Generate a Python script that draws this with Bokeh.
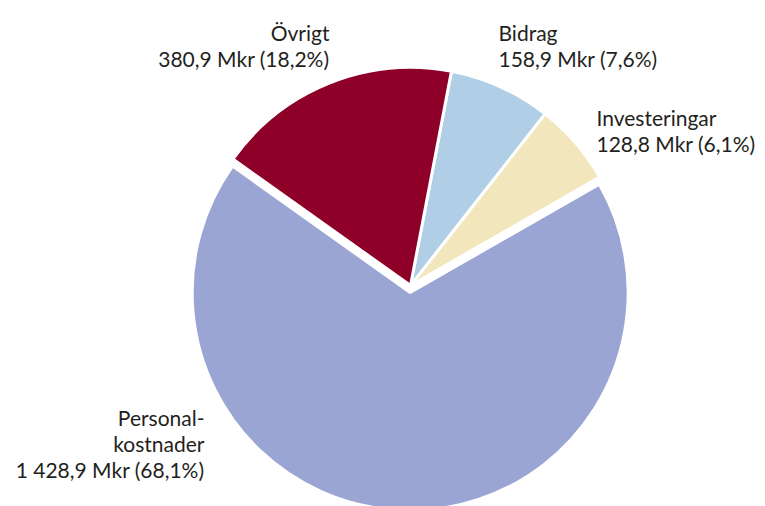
import math
from bokeh.plotting import figure
from bokeh.models import ColumnDataSource, Range1d
from bokeh.core.properties import value
from bokeh.embed import file_html
from bokeh.resources import INLINE

# ---- data ----
categories = ["Investeringar", "Bidrag", "Övrigt", "Personalkostnader"]
label_lines = [["Investeringar"], ["Bidrag"], ["Övrigt"], ["Personal-", "kostnader"]]
values = [128.8, 158.9, 380.9, 1428.9]  # Mkr

# ---- style ----
colors = ["#f2e7bc", "#b0cfe6", "#8f0029", "#9aa5d4"]
explode = [0, 0, 0, 7]
label_x = [596, 498, 329, 204]
label_y0 = [389, 474, 474, 89]   # baseline of first line (data coords, y up)
label_align = ["left", "left", "right", "right"]
line_step = 26
font = "Lato"
fsize = "21px"
txt_color = "#231f20"

W, H = 765, 506
p = figure(width=W, height=H, x_range=Range1d(0, W), y_range=Range1d(0, H),
           output_backend="svg", toolbar_location=None, min_border=0)
p.axis.visible = False
p.grid.visible = False
p.outline_line_color = None
p.background_fill_color = "white"

cx, cy, r = 410, 221, 218
start = math.radians(29.8)
total = sum(values)

xs, ys, a0s, a1s = [], [], [], []
acc = start
for v, e in zip(values, explode):
    a0 = acc
    a1 = acc + v / total * 2 * math.pi
    mid = (a0 + a1) / 2
    xs.append(cx + e * math.cos(mid))
    ys.append(cy + e * math.sin(mid))
    a0s.append(a0)
    a1s.append(a1)
    acc = a1

src = ColumnDataSource(dict(x=xs, y=ys, start=a0s, end=a1s, color=colors))
p.wedge(x="x", y="y", radius=r, start_angle="start", end_angle="end",
        fill_color="color", line_color="white", line_width=3, source=src)


def fmt(v):
    s = f"{v:,.1f}"
    return s.replace(",", " ").replace(".", ",")


for i, (cat, v) in enumerate(zip(categories, values)):
    pct = f"{v / total * 100:.1f}".replace(".", ",")
    lines = label_lines[i] + [f"{fmt(v)} Mkr ({pct}%)"]
    for j, t in enumerate(lines):
        p.text(x=[label_x[i]], y=[label_y0[i] - j * line_step], text=[t],
               text_font=value(font), text_font_size=fsize, text_color=txt_color,
               text_align=label_align[i], text_baseline="alphabetic")

open("out.html", "w").write(file_html(p, INLINE))
